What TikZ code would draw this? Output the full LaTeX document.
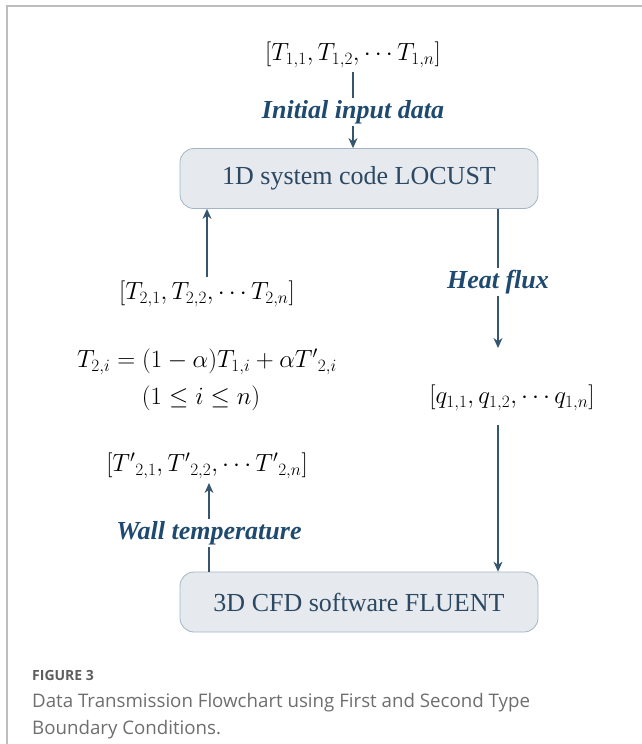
\documentclass[tikz,border=0pt]{standalone}
\usepackage{fontspec}
\setmainfont{Liberation Serif}
\newfontfamily\capfont{Open Sans}
\usetikzlibrary{arrows.meta, positioning}

\definecolor{boxfill}{HTML}{E6EAEE}
\definecolor{boxline}{HTML}{A3B4C6}
\definecolor{boxtext}{HTML}{2C4862}
\definecolor{flowblue}{HTML}{34566F}
\definecolor{labblue}{HTML}{1F4A70}
\definecolor{capgray}{HTML}{6E6E6E}
\definecolor{framegray}{HTML}{BDBDBD}

\tikzset{
    codebox/.style={draw=boxline, fill=boxfill, line width=0.8pt, rounded corners=14pt,
        minimum width=358pt, minimum height=60pt, text=boxtext, font=\fontsize{26}{30}\selectfont},
    flowlab/.style={text=labblue, inner sep=2pt, font=\fontsize{26}{30}\selectfont\bfseries\itshape},
    datavec/.style={inner sep=4pt, font=\fontsize{27}{31}\selectfont},
    flow/.style={draw=flowblue, line width=1.1pt},
    flowarr/.style={flow, -{Stealth[length=10pt, width=9pt]}},
}

\begin{document}
\begin{tikzpicture}[x=1pt, y=-1pt]
    \useasboundingbox (0,0) rectangle (642,744);
    % frame of the figure
    \draw[framegray, line width=1.2pt] (7,744) -- (7,6) -- (642,6);

    % the two codes
    \node[codebox] (locust) at (359,178.5) {1D system code LOCUST};
    \node[codebox] (fluent) at (359,602) {3D CFD software FLUENT};

    % data vectors and relaxation
    \node[datavec] (t1) at (353,55) {$\bigl[T_{1,1}, T_{1,2}, \cdots T_{1,n}\bigr]$};
    \node[datavec] (t2) at (207,294) {$\bigl[T_{2,1}, T_{2,2}, \cdots T_{2,n}\bigr]$};
    \node[datavec] (relax) at (207,362) {$T_{2,i} = (1-\alpha)T_{1,i} + \alpha {T'}_{2,i}$};
    \node[datavec] (range) at (201,398) {$(1 \le i \le n)$};
    \node[datavec] (t2p) at (207,466) {$\bigl[{T'}_{2,1}, {T'}_{2,2}, \cdots {T'}_{2,n}\bigr]$};
    \node[datavec] (q1) at (512,398) {$\bigl[q_{1,1}, q_{1,2}, \cdots q_{1,n}\bigr]$};

    % labels on the connectors
    \node[flowlab] (initlab) at (353,112) {Initial input data};
    \node[flowlab] (heatlab) at (498,282) {Heat flux};
    \node[flowlab] (walllab) at (209,533) {Wall temperature};

    % free ends on the right
    \coordinate (qin) at (498,348);
    \coordinate (qout) at (498,425);

    % connectors
    \draw[flow] (t1) -- (initlab);
    \draw[flowarr] (initlab) -- (initlab |- locust.north);
    \draw[flowarr] (t2.north) -- (t2.north |- locust.south);
    \draw[flow] (heatlab |- locust.south) -- (heatlab);
    \draw[flowarr] (heatlab) -- (qin);
    \draw[flowarr] (qout) -- (qout |- fluent.north);
    \draw[flow] (walllab |- fluent.north) -- (walllab);
    \draw[flowarr] (walllab) -- (walllab |- t2p.south);

    % caption
    \node[anchor=base west, inner sep=0pt, text=capgray!85!black, font=\capfont\fontsize{14}{16}\selectfont\bfseries] (fignum) at (32,680) {FIGURE 3};
    \node[anchor=base west, inner sep=0pt, text=capgray, font=\capfont\fontsize{18.7}{27}\selectfont] (figcap) at (32,707)
        {Data Transmission Flowchart using First and Second Type};
    \node[anchor=base west, inner sep=0pt, text=capgray, font=\capfont\fontsize{18.7}{27}\selectfont] (figcap2) at (32,734)
        {Boundary Conditions.};
\end{tikzpicture}
\end{document}
